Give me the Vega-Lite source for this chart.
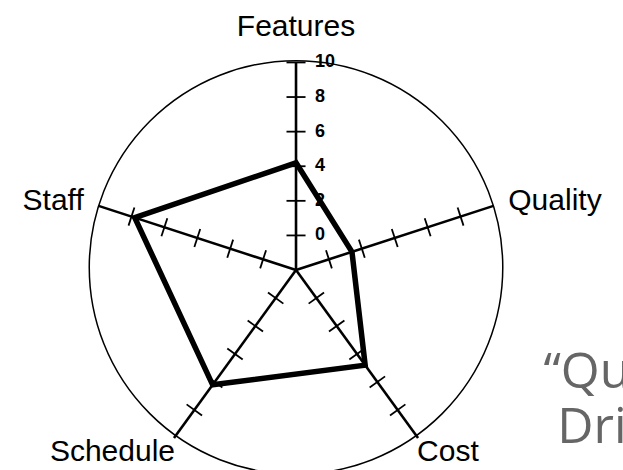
{
  "$schema": "https://vega.github.io/schema/vega-lite/v6.json",
  "width": 623,
  "height": 470,
  "autosize": {"type": "none"},
  "padding": 0,
  "background": "white",
  "config": {"view": {"stroke": null}},
  "datasets": {
    "axes": [
      {"axis": "Features", "order": 0, "value": 4.2, "ticks": [0, 2, 4, 6, 8, 10]},
      {"axis": "Quality", "order": 1, "value": 1.4, "ticks": [0, 2, 4, 6, 8]},
      {"axis": "Cost", "order": 2, "value": 4.8, "ticks": [0, 2, 4, 6, 8]},
      {"axis": "Schedule", "order": 3, "value": 6.2, "ticks": [0, 2, 4, 6, 8]},
      {"axis": "Staff", "order": 4, "value": 7.8, "ticks": [0, 2, 4, 6, 8]}
    ],
    "scale": [
      {"label": "0", "n": 0},
      {"label": "2", "n": 2},
      {"label": "4", "n": 4},
      {"label": "6", "n": 6},
      {"label": "8", "n": 8},
      {"label": "10", "n": 10}
    ]
  },
  "layer": [
    {
      "data": {"values": [{"shape": "outline"}]},
      "mark": {"type": "point", "shape": "circle", "filled": false, "size": 171000, "stroke": "black", "strokeWidth": 1.5, "opacity": 1},
      "encoding": {
        "x": {"datum": 0, "type": "quantitative", "scale": {"domain": [-17.11, 18.9], "nice": false, "zero": false}, "axis": null},
        "y": {"datum": 0.15, "type": "quantitative", "scale": {"domain": [-11.56, 15.61], "nice": false, "zero": false}, "axis": null}
      }
    },
    {
      "data": {"name": "axes"},
      "transform": [
        {"calculate": "(90 - datum.order * 72) * PI / 180", "as": "a"},
        {"calculate": "12 * cos(datum.a)", "as": "ex"},
        {"calculate": "12 * sin(datum.a)", "as": "ey"}
      ],
      "mark": {"type": "rule", "strokeWidth": 2.6, "color": "black", "strokeCap": "butt"},
      "encoding": {
        "x": {"field": "ex", "type": "quantitative", "scale": {"domain": [-17.11, 18.9], "nice": false, "zero": false}, "axis": null},
        "y": {"field": "ey", "type": "quantitative", "scale": {"domain": [-11.56, 15.61], "nice": false, "zero": false}, "axis": null},
        "x2": {"datum": 0},
        "y2": {"datum": 0}
      }
    },
    {
      "data": {"name": "axes"},
      "transform": [
        {"flatten": ["ticks"], "as": ["tick"]},
        {"calculate": "(90 - datum.order * 72) * PI / 180", "as": "a"},
        {"calculate": "(datum.tick + 2) * cos(datum.a)", "as": "cx"},
        {"calculate": "(datum.tick + 2) * sin(datum.a)", "as": "cy"},
        {"calculate": "datum.cx + 0.55 * sin(datum.a)", "as": "tx1"},
        {"calculate": "datum.cy - 0.55 * cos(datum.a)", "as": "ty1"},
        {"calculate": "datum.cx - 0.55 * sin(datum.a)", "as": "tx2"},
        {"calculate": "datum.cy + 0.55 * cos(datum.a)", "as": "ty2"}
      ],
      "mark": {"type": "rule", "strokeWidth": 1.8, "color": "black"},
      "encoding": {
        "x": {"field": "tx1", "type": "quantitative", "scale": {"domain": [-17.11, 18.9], "nice": false, "zero": false}, "axis": null},
        "y": {"field": "ty1", "type": "quantitative", "scale": {"domain": [-11.56, 15.61], "nice": false, "zero": false}, "axis": null},
        "x2": {"field": "tx2"},
        "y2": {"field": "ty2"}
      }
    },
    {
      "data": {"name": "axes"},
      "transform": [
        {"calculate": "(90 - datum.order * 72) * PI / 180", "as": "a"},
        {"calculate": "(datum.value + 2) * cos(datum.a)", "as": "px"},
        {"calculate": "(datum.value + 2) * sin(datum.a)", "as": "py"}
      ],
      "mark": {"type": "line", "interpolate": "linear-closed", "strokeWidth": 5.5, "color": "black", "strokeJoin": "miter"},
      "encoding": {
        "x": {"field": "px", "type": "quantitative", "scale": {"domain": [-17.11, 18.9], "nice": false, "zero": false}, "axis": null},
        "y": {"field": "py", "type": "quantitative", "scale": {"domain": [-11.56, 15.61], "nice": false, "zero": false}, "axis": null},
        "order": {"field": "order"}
      }
    },
    {
      "data": {"name": "axes"},
      "transform": [
        {"calculate": "(90 - datum.order * 72) * PI / 180", "as": "a"},
        {"calculate": "sin(datum.a) > 0.9 ? 13.2 : (sin(datum.a) > 0.1 ? 12.9 : 11.9)", "as": "R"},
        {"calculate": "datum.R * cos(datum.a)", "as": "lx"},
        {"calculate": "datum.R * sin(datum.a)", "as": "ly"}
      ],
      "mark": {
        "type": "text",
        "font": "Liberation Sans",
        "fontSize": 30,
        "color": "black",
        "align": {"expr": "cos(datum.a) > 0.3 ? 'left' : (cos(datum.a) < -0.3 ? 'right' : 'center')"},
        "baseline": {"expr": "sin(datum.a) > 0.9 ? 'bottom' : (sin(datum.a) < -0.5 ? 'top' : 'middle')"}
      },
      "encoding": {
        "x": {"field": "lx", "type": "quantitative", "scale": {"domain": [-17.11, 18.9], "nice": false, "zero": false}, "axis": null},
        "y": {"field": "ly", "type": "quantitative", "scale": {"domain": [-11.56, 15.61], "nice": false, "zero": false}, "axis": null},
        "text": {"field": "axis", "type": "nominal"}
      }
    },
    {
      "data": {"name": "scale"},
      "transform": [
        {"calculate": "datum.n + 2", "as": "ry"}
      ],
      "mark": {"type": "text", "font": "Liberation Sans", "fontSize": 18, "fontWeight": "bold", "color": "black", "align": "left", "baseline": "middle", "dx": 19},
      "encoding": {
        "x": {"datum": 0, "type": "quantitative", "scale": {"domain": [-17.11, 18.9], "nice": false, "zero": false}, "axis": null},
        "y": {"field": "ry", "type": "quantitative", "scale": {"domain": [-11.56, 15.61], "nice": false, "zero": false}, "axis": null},
        "text": {"field": "label", "type": "nominal"}
      }
    },
    {
      "data": {"values": [{"note": "“Quality"}]},
      "mark": {"type": "text", "font": "Open Sans", "fontSize": 50, "color": "#666666", "align": "left", "baseline": "alphabetic"},
      "encoding": {
        "x": {"datum": 14.3, "type": "quantitative", "scale": {"domain": [-17.11, 18.9], "nice": false, "zero": false}, "axis": null},
        "y": {"datum": -6.8, "type": "quantitative", "scale": {"domain": [-11.56, 15.61], "nice": false, "zero": false}, "axis": null},
        "text": {"field": "note", "type": "nominal"}
      }
    },
    {
      "data": {"values": [{"note": "Drivers”"}]},
      "mark": {"type": "text", "font": "Open Sans", "fontSize": 50, "color": "#666666", "align": "left", "baseline": "alphabetic"},
      "encoding": {
        "x": {"datum": 15.1, "type": "quantitative", "scale": {"domain": [-17.11, 18.9], "nice": false, "zero": false}, "axis": null},
        "y": {"datum": -10.0, "type": "quantitative", "scale": {"domain": [-11.56, 15.61], "nice": false, "zero": false}, "axis": null},
        "text": {"field": "note", "type": "nominal"}
      }
    }
  ]
}
